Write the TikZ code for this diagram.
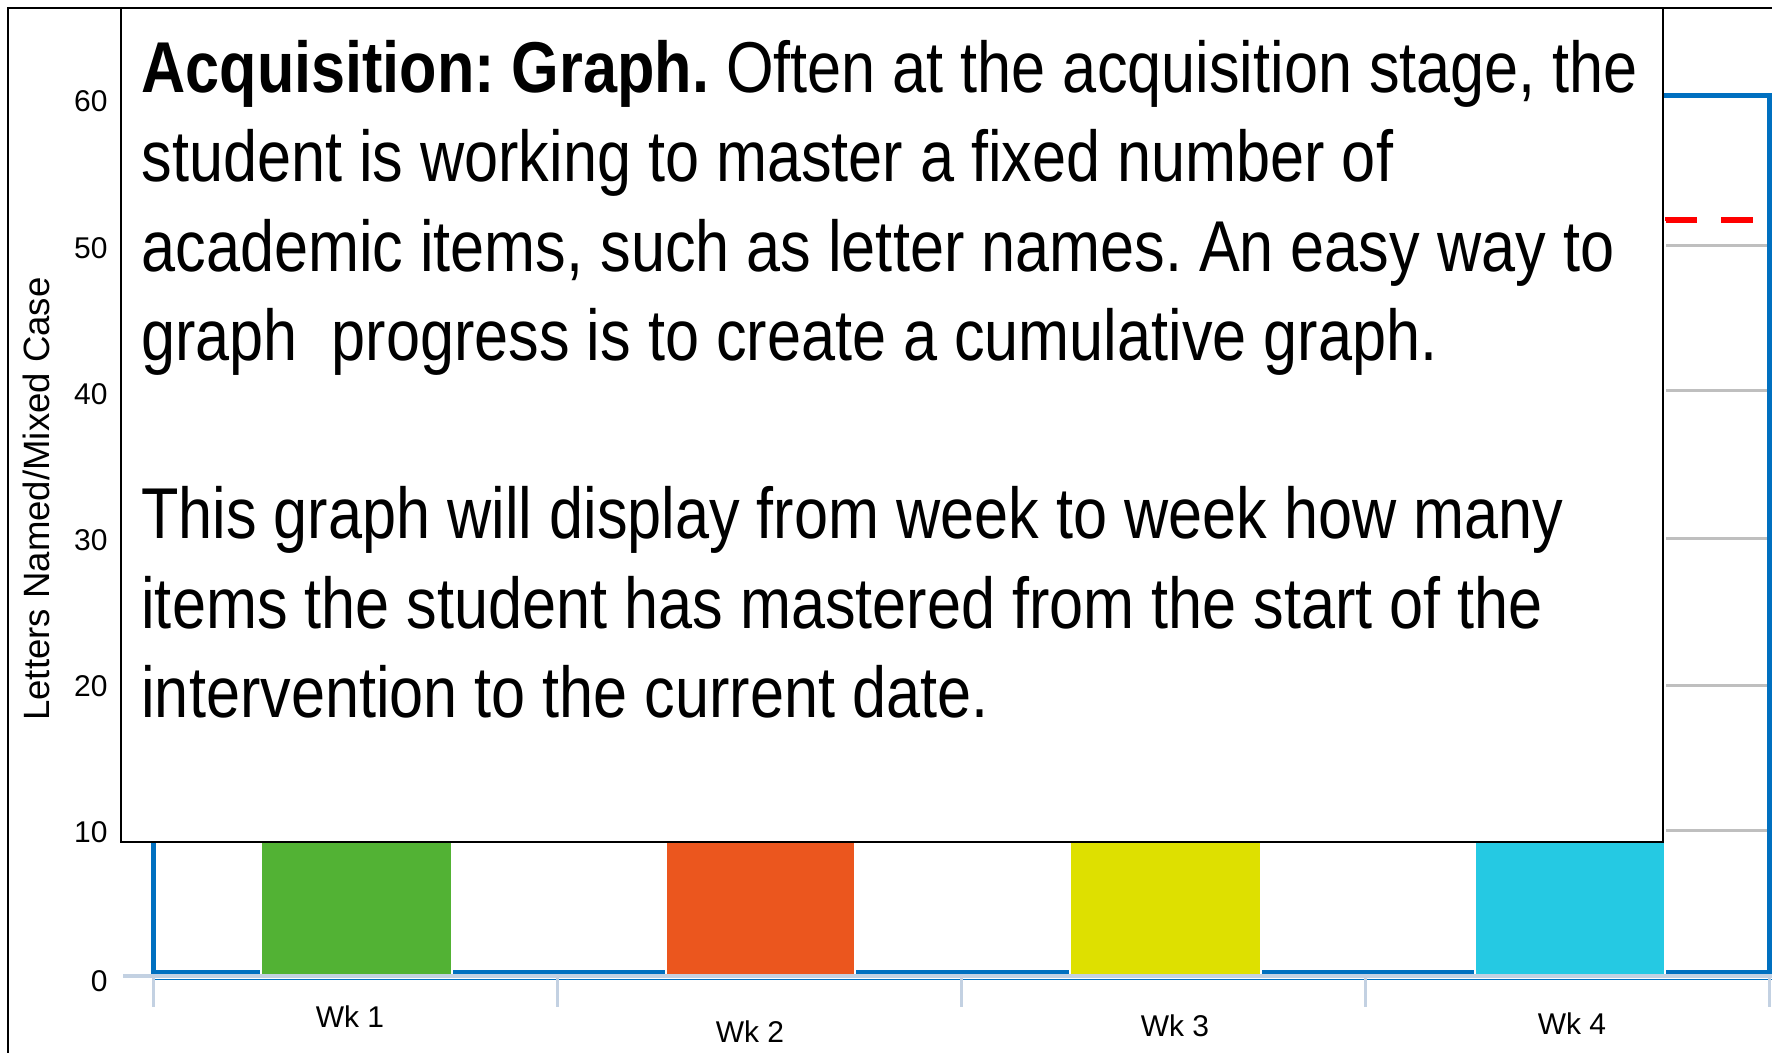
\documentclass[tikz,border=0pt]{standalone}
\usepackage{fontspec}
\setmainfont{Liberation Sans}
\newfontfamily\narrowfont[FakeStretch=0.85]{Liberation Sans}
\definecolor{chartblue}{HTML}{0070C0}
\definecolor{axisgray}{HTML}{C3D1E2}
\definecolor{gridgray}{HTML}{BFBFBF}
\definecolor{barA}{HTML}{52B234}
\definecolor{barB}{HTML}{EB561E}
\definecolor{barC}{HTML}{DEE000}
\definecolor{barD}{HTML}{25C9E3}
\tikzset{
  ticklabel/.style={font=\fontsize{15}{18}\selectfont, anchor=east, inner sep=0pt},
  weeklabel/.style={font=\fontsize{15}{18}\selectfont, inner sep=0pt},
  barfill/.style={draw=white, line width=1pt},
  gridrule/.style={gridgray, line width=1.5pt},
  goalline/.style={red, line width=3pt, dash pattern=on 16pt off 12pt},
}
\begin{document}
\frenchspacing
\begin{tikzpicture}[x=0.5pt, y=-0.5pt]
\useasboundingbox (0,0) rectangle (1772,1053);
\clip (0,0) rectangle (1772,1053);
\fill[white] (0,0) rectangle (1772,1053);

% horizontal grid rules at 10 ... 50
\foreach \gy in {830,685,538,391,246}
  \draw[gridrule] (153,\gy) -- (1769,\gy);

% goal line
\draw[goalline] (153,220) -- (1790,220);

% plot frame
\draw[chartblue, line width=2.5pt] (153,96) rectangle (1769,972);

% bars
\fill[barfill, fill=barA] (261,640) rectangle (452,975);
\fill[barfill, fill=barB] (666,520) rectangle (855,975);
\fill[barfill, fill=barC] (1070,400) rectangle (1261,975);
\fill[barfill, fill=barD] (1475,222) rectangle (1665,975);

% category axis
\draw[axisgray, line width=2pt] (123,976) -- (1772,976);
\draw[chartblue, line width=0.7pt] (153,979.5) -- (1772,979.5);
\foreach \tx in {153,557,961,1365,1769}
  \draw[axisgray, line width=1.5pt] (\tx,976) -- (\tx,1007);

% value labels
\node[ticklabel] (v0)  at (108,981) {0};
\node[ticklabel] (v10) at (108,832) {10};
\node[ticklabel] (v20) at (108,686) {20};
\node[ticklabel] (v30) at (108,540) {30};
\node[ticklabel] (v40) at (108,394) {40};
\node[ticklabel] (v50) at (108,248) {50};
\node[ticklabel] (v60) at (108,101) {60};

% category labels
\node[weeklabel] (w1) at (350,1017) {Wk 1};
\node[weeklabel] (w2) at (750,1032) {Wk 2};
\node[weeklabel] (w3) at (1175,1026) {Wk 3};
\node[weeklabel] (w4) at (1572,1024) {Wk 4};

% axis title
\node[rotate=90, inner sep=0pt, font=\fontsize{18.3}{22}\selectfont] (ytitle) at (36,499) {Letters Named/Mixed Case};

% outer frame
\draw[black, line width=1pt] (8,8) rectangle (1800,1080);

% text panel
\filldraw[fill=white, draw=black, line width=1.25pt] (121,8) rectangle (1663,842);
\node[anchor=north west, inner sep=0pt, align=left,
      font=\narrowfont\fontsize{36}{44.65}\selectfont] (body) at (141,32)
{\rule{0pt}{30pt}\textbf{Acquisition: Graph.} Often at the acquisition stage, the\\
student is working to master a fixed number of\\
academic items, such as letter names. An easy way to\\
graph\ \ progress is to create a cumulative graph.\\[44.65pt]
This graph will display from week to week how many\\
items the student has mastered from the start of the\\
intervention to the current date.};
\end{tikzpicture}
\end{document}
